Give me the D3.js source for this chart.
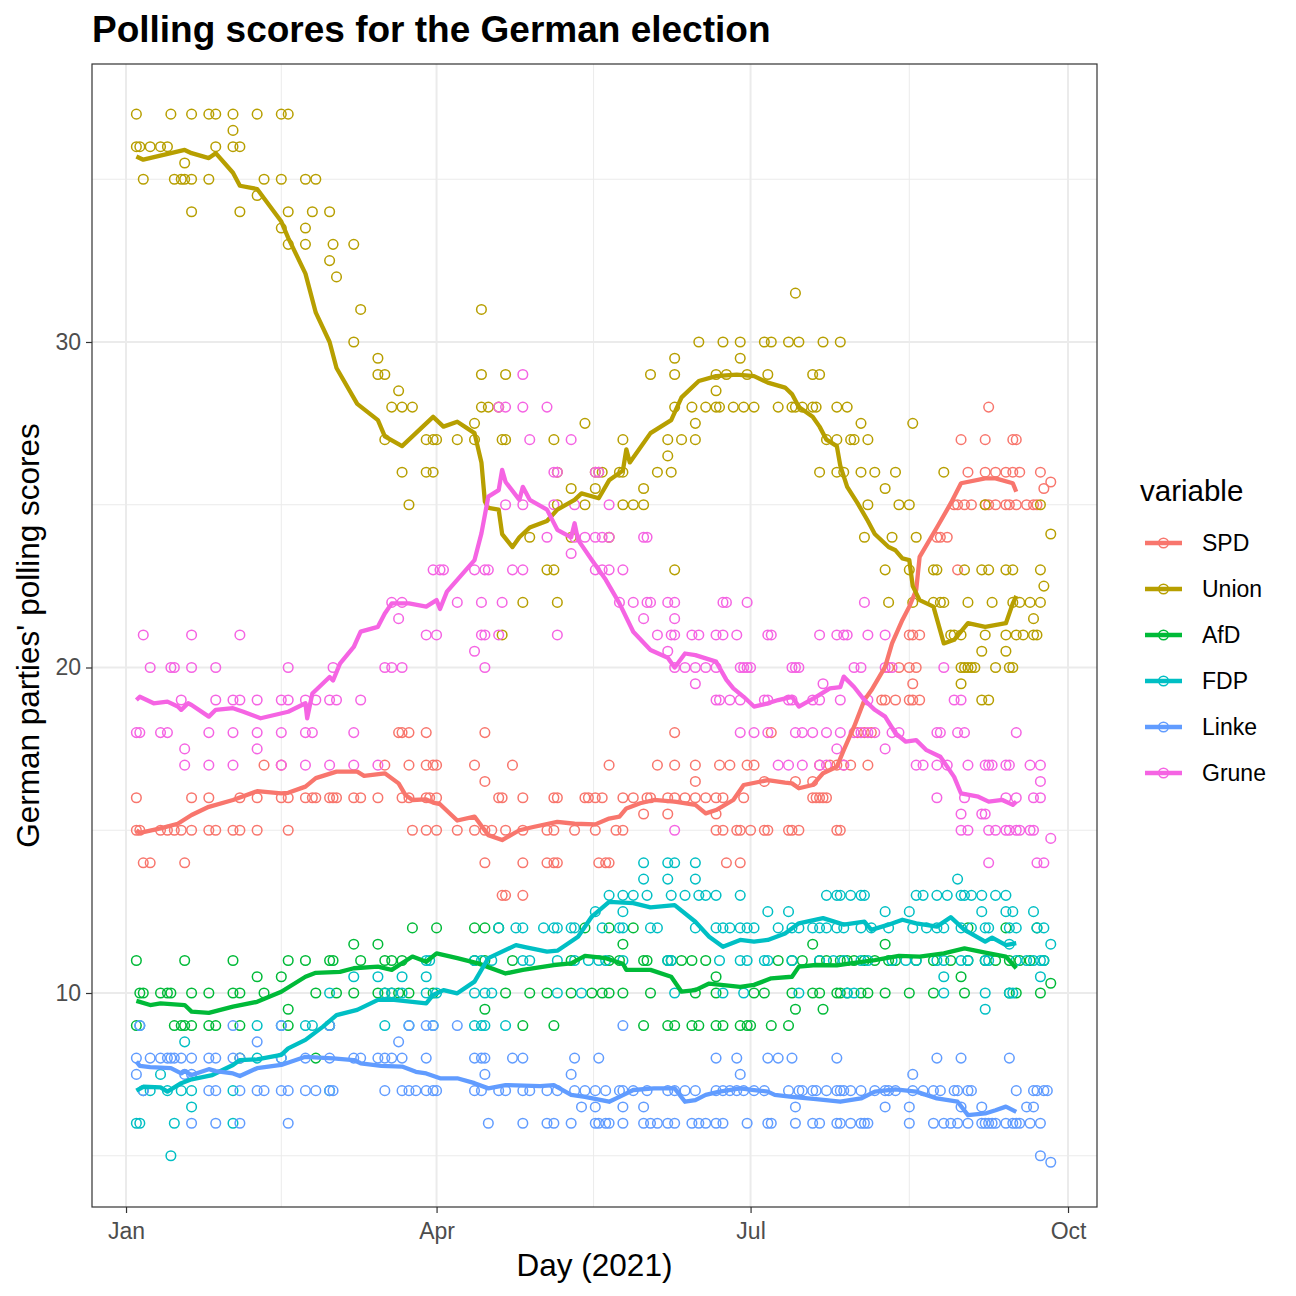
<!DOCTYPE html>
<html><head><meta charset="utf-8">
<script src="https://cdn.jsdelivr.net/npm/d3@7"></script>
<style>body{margin:0;background:#fff}svg{display:block}text{font-family:"Liberation Sans",Arial,Helvetica,sans-serif}</style>
</head><body>
<svg id="c" width="1296" height="1296"></svg>
<script>
// ---------- data (x = days since 1 Jan 2021, y = polling score %) ----------
const parties = ["SPD","Union","AfD","FDP","Linke","Grune"];
const partyColors = ["#F8766D","#B79F00","#00BA38","#00BFC4","#619CFF","#F564E3"];
const xTickLabels = ["Jan","Apr","Jul","Oct"];
const xTickMonths = [0,3,6,9];
const yTicks = [10,20,30];
const yMinor = [5,15,25,35];

// individual polls, grouped as [score, [days...]]
const spdPoints = [
 [28,[250]],[27,[242,249,257,258]],[26,[244,249,252,255,257,259,265]],[25.7,[268]],[25.5,[266]],
 [25,[240,241,243,245,249,250,252,255,256,258,261,263,264]],[24,[235,236,238]],[23,[241]],
 [21,[227,228,230]],[20,[221,224,227,229]],[19.5,[228]],[19,[219,220,223,227,228,230]],
 [18,[79,80,82,87,104,159,187,212,214,216]],
 [17,[40,45,75,82,87,89,90,101,112,140,154,159,165,172,175,180,182,201,204,206,208,210,215]],
 [16.5,[104,165,185,194,199]],
 [16,[3,19,24,33,38,45,47,52,54,55,59,60,61,66,68,73,80,82,87,88,90,108,109,115,124,125,133,134,136,138,144,147,151,152,157,159,162,165,168,171,173,179,199,200,201,202,203]],
 [15.5,[150,157,171]],
 [15,[3,4,10,12,14,16,19,24,26,31,33,38,47,83,87,90,96,101,104,106,110,115,122,124,130,136,142,144,171,173,177,178,181,185,186,192,193,195,206,207]],
 [14,[5,7,17,104,115,122,124,125,137,139,140,174,178]],
 [13,[109,110,115]]
];
const unionPoints = [
 [37,[3,13,19,24,26,31,38,45,47]],[36.5,[31]],[36,[3,4,7,10,12,26,31,33]],[35.5,[17]],
 [35,[5,14,16,17,19,24,40,45,52,55]],[34.5,[38]],[34,[19,33,47,54,59]],[33.5,[45,52]],
 [33,[47,52,60,66]],[32.5,[59]],[32,[61]],[31.5,[194]],[31,[68,103]],
 [30,[66,166,173,178,185,187,192,195,202,207]],[29.5,[73,159,178]],
 [29,[73,75,103,110,152,159,171,174,180,186,199,201]],[28.5,[79,171]],
 [28,[77,80,83,103,105,108,159,164,168,171,172,176,179,182,189,193,194,196,199,200,206,209]],
 [27.5,[101,133,165,213,228]],
 [27,[75,87,89,90,96,101,109,110,124,144,157,161,165,203,206,210,211,215]],[26.5,[157]],
 [26,[80,87,89,125,136,137,138,143,144,154,158,201,206,208,213,217,223,237]],
 [25.5,[129,136,150,220]],[25,[82,125,133,144,147,150,215,224,227,249,265]],[24.1,[268]],
 [24,[117,129,140,214,222,229]],
 [23,[122,124,159,220,227,234,235,243,248,250,255,257,265]],[22.5,[266]],
 [22,[115,125,221,228,234,236,237,244,251,257,259,262,265]],[21.5,[263]],
 [21,[109,239,240,242,249,255,258,260,263,264]],[20.5,[248,255]],
 [20,[242,243,244,245,246,252,256,257]],[19.5,[242]],[19,[248,250]]
];
const afdPoints = [
 [12,[83,90,101,104,108,133,140,147,244,255,264]],[11.5,[66,73,144,199,220]],
 [11,[3,17,31,47,52,59,60,68,75,77,80,101,104,112,129,140,143,150,151,157,158,161,164,168,189,193,196,201,203,207,209,211,214,217,221,223,229,234,239,244,249,252,256,259,262,266]],
 [10.5,[38,45,171,242]],[10.3,[268]],
 [10,[4,5,10,12,13,19,24,31,33,40,55,61,66,73,75,77,79,82,89,110,117,122,129,135,138,140,144,152,165,171,182,185,193,199,201,206,207,209,213,215,220,227,234,243,256,258,265]],
 [9.5,[47,104,194,202]],
 [9,[3,14,16,17,19,24,26,33,47,59,115,124,150,157,159,164,166,171,173,178,180,181,187,192]],
 [8,[33,55]]
];
const fdpPoints = [
 [14,[150,157,159,165]],[13.5,[150,157,165,241]],
 [13,[140,144,147,151,158,162,166,168,171,178,203,206,207,210,213,214,229,231,235,238,242,243,245,248,252,255]],
 [12.5,[136,144,186,192,220,227,248,255,257,263]],
 [12,[108,113,115,121,124,125,129,130,138,143,144,152,154,165,171,173,175,178,180,182,189,193,195,199,201,203,206,208,213,216,221,228,232,235,237,242,245,249,250,256,258,264,266]],
 [11.5,[256,268]],
 [11,[87,88,101,103,106,115,117,125,130,134,137,139,144,157,158,172,178,180,185,186,193,201,205,208,213,215,222,226,229,235,237,242,244,249,250,258,261,263,265,266]],
 [10.5,[66,73,80,87,237,265]],
 [10,[59,75,77,80,87,90,101,104,106,125,132,159,173,179,195,209,211,237,249,256,257]],
 [9.5,[249]],[9,[4,38,45,52,54,59,75,82,89,101,103,104,110]],[8.5,[17]],[8,[38,45]],
 [7.5,[10]],[7,[5,7,12,16,19,31,59]],[6.5,[19]],[6,[3,4,14,31]],[5,[13]]
];
const linkePoints = [
 [9,[4,31,45,59,82,87,89,96,144]],[8.5,[38,79]],
 [8,[3,7,10,12,13,14,16,19,24,26,31,33,45,52,59,66,68,73,75,77,80,87,101,103,104,112,115,130,137,171,177,186,189,193,206,235,242,256]],
 [7.5,[3,17,19,104,129,178,228]],
 [7,[5,24,26,33,38,40,45,47,52,55,59,60,75,80,82,84,87,89,90,101,103,108,110,115,117,122,125,130,133,136,139,143,144,147,151,157,159,162,165,171,173,175,177,179,182,185,192,195,196,199,200,203,206,207,208,210,213,217,220,221,223,228,231,234,236,240,241,244,245,258,263,264,266,267]],
 [6.5,[132,136,144,150,194,220,227,242,248,261,263]],
 [6,[19,26,33,47,105,115,122,124,129,136,137,139,140,144,150,152,154,157,159,164,166,168,171,173,180,186,187,194,199,201,206,207,210,213,214,215,227,234,237,239,241,244,248,249,250,251,252,255,257,258,259,262,265]],
 [5,[265]],[4.8,[268]]
];
const grunePoints = [
 [29,[115]],[28,[108,110,115,122]],[27,[117,129]],[26,[124,125,136,137]],
 [25,[110,115,124,130,140]],[24,[122,130,133,136,138,140,150,151]],[23.5,[129]],
 [23,[89,91,92,101,104,105,112,115,136,138,140,144]],
 [22,[77,80,96,103,109,143,147,151,152,157,159,173,174,180,214]],[21.5,[79,150,159]],
 [21,[5,19,33,87,90,103,104,108,125,154,158,159,164,166,171,173,177,186,187,201,206,208,209,215,220]],
 [20.5,[101,157]],
 [20,[7,13,14,19,26,47,60,75,77,80,104,159,162,165,168,171,178,179,180,181,193,194,195,211,213,220,222,237]],
 [19.5,[165,202]],
 [19,[16,26,31,33,38,45,47,52,55,59,61,68,171,172,175,178,185,186,192,193,199,201,207,215,240,242]],
 [18,[3,4,10,12,24,31,38,45,52,54,66,178,182,186,194,196,199,203,207,211,213,215,217,222,224,235,236,241,243,258]],
 [17.5,[17,38,206,220]],
 [17,[17,24,31,45,52,59,66,73,189,192,196,201,203,208,229,231,235,238,244,249,250,251,255,256,262,265]],
 [16.5,[265]],[16,[235,243,255,258,263,265]],[15.5,[242,248,249]],
 [15,[159,242,244,250,252,255,256,258,259,262,263]],[14.75,[268]],[14,[250,264,266]]
];

// rolling averages [day, score]
const spdLine = [[3,15.0],[4,14.92],[10,15.06],[15,15.2],[19,15.47],[24,15.72],[31,15.93],[38,16.2],[45,16.13],[47,16.15],[52,16.34],[55,16.6],[61,16.8],[67,16.8],[69,16.67],[75,16.75],[79,16.44],[81,16.08],[83,15.93],[87,15.95],[89,15.85],[91,15.8],[96,15.3],[101,15.42],[105,14.85],[109,14.7],[114,15.0],[118,15.1],[125,15.26],[130,15.2],[136,15.18],[140,15.36],[143,15.42],[145,15.67],[149,15.83],[153,15.93],[159,15.88],[165,15.78],[168,15.52],[171,15.62],[176,15.93],[179,16.39],[186,16.54],[191,16.46],[193,16.44],[195,16.29],[199,16.39],[202,16.75],[206,16.95],[208,17.46],[211,18.18],[214,19.0],[216,19.3],[220,20.02],[222,20.74],[225,21.46],[227,21.87],[229,22.38],[230,23.4],[235,24.3],[239,25.04],[242,25.66],[249,25.81],[252,25.81],[257,25.66],[258,25.4]];
const unionLine = [[3,35.7],[5,35.6],[13,35.8],[17,35.9],[19,35.8],[24,35.65],[26,35.8],[31,35.2],[33,34.8],[38,34.7],[45,33.7],[47,33.2],[52,32.1],[55,30.9],[59,30.0],[61,29.2],[67,28.1],[73,27.6],[75,27.1],[80,26.8],[83,27.1],[89,27.7],[92,27.4],[96,27.55],[101,27.2],[103,26.3],[104,25.1],[105,24.9],[108,24.85],[109,24.1],[112,23.7],[114,24.0],[117,24.3],[122,24.5],[125,24.85],[130,25.15],[132,25.35],[137,25.2],[140,25.75],[144,26.05],[145,26.7],[146,26.3],[152,27.2],[158,27.6],[161,28.3],[166,28.8],[171,28.95],[177,29.0],[182,28.95],[186,28.75],[191,28.6],[193,28.4],[195,28.0],[199,27.7],[201,27.4],[203,27.0],[206,26.8],[207,26.2],[209,25.55],[212,25.05],[215,24.5],[217,24.1],[221,23.7],[223,23.6],[225,23.35],[227,23.3],[228,22.5],[230,22.07],[234,21.87],[237,20.74],[240,20.85],[244,21.36],[249,21.25],[255,21.36],[257,21.97],[258,22.2]];
const afdLine = [[3,9.76],[7,9.63],[10,9.68],[17,9.63],[19,9.43],[24,9.39],[31,9.58],[38,9.73],[45,10.04],[52,10.5],[55,10.62],[62,10.65],[66,10.76],[73,10.81],[77,10.71],[83,11.12],[87,10.96],[90,11.22],[96,11.07],[102,10.91],[110,10.6],[115,10.71],[124,10.86],[129,10.91],[133,11.14],[139,11.07],[144,10.9],[145,10.71],[152,10.71],[158,10.5],[161,10.04],[165,10.09],[169,10.29],[178,10.19],[182,10.25],[187,10.45],[193,10.5],[195,10.81],[200,10.86],[206,10.85],[210,10.91],[217,11.01],[224,11.14],[230,11.12],[237,11.22],[243,11.37],[249,11.24],[255,11.12],[258,10.76]];
const fdpLine = [[3,7.0],[5,7.12],[10,7.1],[12,6.97],[16,7.23],[19,7.35],[25,7.48],[31,7.79],[33,7.94],[38,7.96],[45,8.1],[47,8.3],[52,8.56],[57,8.96],[61,9.32],[67,9.48],[73,9.79],[77,9.8],[87,9.68],[89,9.94],[92,10.09],[96,9.99],[101,10.35],[105,11.07],[113,11.47],[116,11.4],[122,11.27],[125,11.3],[131,11.73],[135,12.35],[140,12.8],[147,12.76],[152,12.63],[159,12.7],[165,12.19],[169,11.73],[173,11.42],[178,11.63],[182,11.58],[186,11.63],[191,11.83],[195,12.14],[202,12.3],[208,12.1],[214,12.19],[216,11.94],[221,12.1],[225,12.25],[229,12.14],[235,12.04],[239,12.33],[243,11.94],[249,11.58],[251,11.7],[255,11.47],[258,11.53]];
const linkeLine = [[3,7.89],[4,7.76],[7,7.72],[13,7.69],[16,7.53],[17,7.6],[19,7.48],[24,7.66],[26,7.6],[31,7.53],[33,7.45],[38,7.69],[45,7.79],[52,8.04],[60,7.99],[66,7.94],[68,7.84],[74,7.76],[80,7.74],[84,7.58],[87,7.53],[91,7.38],[96,7.38],[101,7.23],[105,7.07],[110,7.17],[120,7.14],[124,7.17],[129,6.87],[133,6.81],[140,6.66],[143,6.81],[147,7.02],[153,7.07],[159,7.07],[162,6.66],[165,6.71],[168,6.87],[172,6.97],[178,7.07],[182,7.02],[186,6.97],[188,6.87],[193,6.81],[200,6.74],[207,6.66],[213,6.76],[217,6.97],[223,7.04],[229,6.97],[235,6.76],[241,6.66],[244,6.25],[249,6.3],[252,6.4],[255,6.51],[258,6.35]];
const gruneLine = [[3,19.0],[4,19.1],[8,18.9],[12,18.95],[15,18.8],[16,18.7],[18,18.9],[19,18.85],[24,18.49],[26,18.7],[31,18.75],[34,18.64],[39,18.44],[47,18.64],[52,18.9],[52.5,18.44],[54,19.2],[59,19.71],[60,19.6],[62,20.12],[66,20.63],[68,21.1],[73,21.25],[75,21.66],[77,21.97],[82,21.97],[87,21.87],[90,22.07],[91,21.8],[93,22.33],[101,23.3],[103,24.12],[105,25.25],[108,25.45],[109,26.07],[110,25.7],[114,25.15],[115,25.55],[117,25.15],[122,24.85],[125,24.23],[129,24.0],[130,24.43],[131,23.92],[135,23.3],[139,22.7],[143,21.97],[147,21.1],[152,20.54],[157,20.3],[159,20.0],[162,20.43],[165,20.38],[171,20.18],[174,19.62],[176,19.36],[179,19.1],[182,18.8],[186,18.9],[189,19.0],[193,19.1],[195,18.8],[200,19.1],[204,19.36],[207,19.4],[208,19.72],[211,19.4],[214,19.0],[217,18.7],[220,18.49],[223,17.98],[226,17.72],[229,17.77],[232,17.46],[236,17.26],[240,16.64],[242,16.13],[247,16.03],[250,15.88],[254,15.93],[257,15.78],[258,15.88]];

const pointSets = [spdPoints, unionPoints, afdPoints, fdpPoints, linkePoints, grunePoints];
const lineSets = [spdLine, unionLine, afdLine, fdpLine, linkeLine, gruneLine];

// ---------- drawing ----------
const svg = d3.select("#c");
const W = 1296, H = 1296;
svg.append("rect").attr("width", W).attr("height", H).attr("fill", "#fff");
const P = {l: 92, r: 1097, t: 64, b: 1207};
const DAY = 86400000, T0 = Date.UTC(2021, 0, 1);
const toDate = d => new Date(T0 + d * DAY);

const x = d3.scaleUtc().domain([toDate(-9.86), toDate(281.4)]).range([P.l, P.r]);
const y = d3.scaleLinear().domain([3.426, 38.54]).range([P.b, P.t]);

const xBreaks = xTickMonths.map(m => new Date(Date.UTC(2021, m, 1)));
const xMinor = d3.pairs(xBreaks).map(([a, b]) => new Date((+a + +b) / 2));

const g = svg.append("g");
g.selectAll(".ym").data(yMinor).join("line")
  .attr("x1", P.l).attr("x2", P.r).attr("y1", d => y(d)).attr("y2", d => y(d))
  .attr("stroke", "#ebebeb").attr("stroke-width", 1);
g.selectAll(".xm").data(xMinor).join("line")
  .attr("y1", P.t).attr("y2", P.b).attr("x1", d => x(d)).attr("x2", d => x(d))
  .attr("stroke", "#ebebeb").attr("stroke-width", 1);
g.selectAll(".yM").data(yTicks).join("line")
  .attr("x1", P.l).attr("x2", P.r).attr("y1", d => y(d)).attr("y2", d => y(d))
  .attr("stroke", "#ebebeb").attr("stroke-width", 2);
g.selectAll(".xM").data(xBreaks).join("line")
  .attr("y1", P.t).attr("y2", P.b).attr("x1", d => x(d)).attr("x2", d => x(d))
  .attr("stroke", "#ebebeb").attr("stroke-width", 2);

svg.append("clipPath").attr("id", "clip").append("rect")
  .attr("x", P.l).attr("y", P.t).attr("width", P.r - P.l).attr("height", P.b - P.t);
const plot = svg.append("g").attr("clip-path", "url(#clip)");

const R = 4.8, SW = 1.5, LW = 4.3;
pointSets.forEach((set, i) => {
  const pts = [];
  set.forEach(([v, days]) => days.forEach(d => pts.push([d, v])));
  plot.append("g").selectAll("circle").data(pts).join("circle")
    .attr("cx", d => x(toDate(d[0]))).attr("cy", d => y(d[1])).attr("r", R)
    .attr("fill", "none").attr("stroke", partyColors[i]).attr("stroke-width", SW);
});
const line = d3.line().x(d => x(toDate(d[0]))).y(d => y(d[1]));
lineSets.forEach((ls, i) => {
  plot.append("path").datum(ls).attr("d", line).attr("fill", "none")
    .attr("stroke", partyColors[i]).attr("stroke-width", LW)
    .attr("stroke-linejoin", "round").attr("stroke-linecap", "butt");
});

svg.append("rect").attr("x", P.l).attr("y", P.t).attr("width", P.r - P.l).attr("height", P.b - P.t)
  .attr("fill", "none").attr("stroke", "#333").attr("stroke-width", 1.2);

const xAxis = d3.axisBottom(x).tickValues(xBreaks).tickFormat((d, i) => xTickLabels[i]).tickSize(6).tickPadding(5);
const ax = svg.append("g").attr("transform", `translate(0,${P.b})`).call(xAxis);
const yAxis = d3.axisLeft(y).tickValues(yTicks).tickFormat(d3.format("d")).tickSize(6).tickPadding(5);
const ay = svg.append("g").attr("transform", `translate(${P.l},0)`).call(yAxis);
[ax, ay].forEach(a => {
  a.select(".domain").remove();
  a.selectAll(".tick line").attr("stroke", "#333").attr("stroke-width", 1.2);
  a.selectAll(".tick text").attr("fill", "#4d4d4d").style("font-size", "23px")
    .style("font-family", '"Liberation Sans", Arial, sans-serif');
});
ax.selectAll(".tick text").attr("dy", "0.9em");

svg.append("text").attr("x", P.l).attr("y", 42).text("Polling scores for the German election")
  .style("font-size", "37px").style("font-weight", "bold").attr("fill", "#000");
svg.append("text").attr("x", (P.l + P.r) / 2).attr("y", 1276).attr("text-anchor", "middle")
  .text("Day (2021)").style("font-size", "31.5px").attr("fill", "#000");
svg.append("text").attr("transform", `translate(39,${(P.t + P.b) / 2}) rotate(-90)`)
  .attr("text-anchor", "middle").text("German parties' polling scores")
  .style("font-size", "31.5px").attr("fill", "#000");

const lg = svg.append("g");
lg.append("text").attr("x", 1140).attr("y", 501).text("variable").style("font-size", "29.5px").attr("fill", "#000");
parties.forEach((p, i) => {
  const cy = 543 + i * 46;
  lg.append("line").attr("x1", 1145).attr("x2", 1182).attr("y1", cy).attr("y2", cy)
    .attr("stroke", partyColors[i]).attr("stroke-width", LW);
  lg.append("circle").attr("cx", 1163.5).attr("cy", cy).attr("r", R)
    .attr("fill", "none").attr("stroke", partyColors[i]).attr("stroke-width", SW);
  lg.append("text").attr("x", 1202).attr("y", cy + 8).text(p).style("font-size", "23px").attr("fill", "#000");
});
</script>
</body></html>
